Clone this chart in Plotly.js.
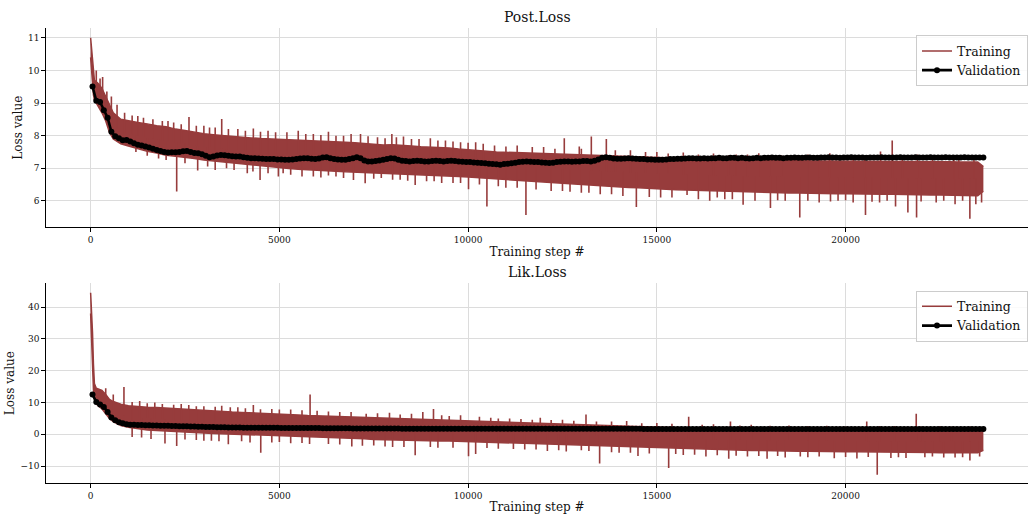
<!DOCTYPE html>
<html>
<head>
<meta charset="utf-8">
<script src="https://cdn.plot.ly/plotly-3.0.1.min.js"></script>
<style>html,body{margin:0;padding:0;background:#fff;}#chart{width:1033px;height:518px;}</style>
</head>
<body>
<div id="chart"></div>
<script>
// ---------- DATA ----------
const chartTitles = ['Post.Loss', 'Lik.Loss'];
const xTickValues = [0, 5000, 10000, 15000, 20000];
const xTickLabels = ['0', '5000', '10000', '15000', '20000'];
const topTickValues = [6, 7, 8, 9, 10, 11];
const botTickValues = [-10, 0, 10, 20, 30, 40];

// Training-loss steps at which the band (upper / lower envelope) was read
const trainSteps = [0,25,50,75,100,150,200,300,400,500,600,800,
  1000,1250,1500,1750,2000,2250,2500,2750,3000,3250,
  3500,3750,4000,4250,4500,4750,5000,5250,5500,5750,
  6000,6250,6500,6750,7000,7250,7500,7750,8000,8250,
  8500,8750,9000,9250,9500,9750,10000,10250,10500,10750,
  11000,11250,11500,11750,12000,12250,12500,12750,13000,13250,
  13500,13750,14000,14250,14500,14750,15000,15250,15500,15750,
  16000,16250,16500,16750,17000,17250,17500,17750,18000,18250,
  18500,18750,19000,19250,19500,19750,20000,20250,20500,20750,
  21000,21250,21500,21750,22000,22250,22500,22750,23000,23250,
  23500,23650];

const postTrainUpper = [11.0,10.6,10.3,9.9,9.7,9.65,9.6,9.45,9.2,8.95,8.7,8.5,
  8.45,8.4,8.36,8.3,8.27,8.2,8.16,8.1,8.06,8.03,
  8.0,7.97,7.96,7.93,7.91,7.9,7.88,7.87,7.86,7.84,
  7.83,7.83,7.81,7.8,7.78,7.76,7.73,7.71,7.72,7.69,
  7.68,7.66,7.65,7.63,7.62,7.59,7.56,7.54,7.52,7.5,
  7.49,7.47,7.46,7.45,7.44,7.43,7.42,7.4,7.4,7.39,
  7.38,7.37,7.36,7.35,7.34,7.33,7.32,7.31,7.3,7.29,
  7.28,7.27,7.27,7.26,7.26,7.25,7.25,7.24,7.24,7.24,
  7.23,7.23,7.23,7.22,7.22,7.22,7.22,7.21,7.21,7.21,
  7.21,7.2,7.2,7.2,7.2,7.2,7.2,7.2,7.19,7.19,
  7.19,7.05];
const postTrainLower = [10.4,9.9,9.45,9.25,9.1,9.0,8.9,8.7,8.45,8.1,7.9,7.75,
  7.68,7.6,7.52,7.47,7.4,7.37,7.34,7.3,7.25,7.22,
  7.19,7.15,7.12,7.09,7.06,7.03,7.01,6.99,6.97,6.96,
  6.94,6.93,6.91,6.89,6.88,6.87,6.86,6.85,6.84,6.83,
  6.81,6.8,6.79,6.78,6.77,6.75,6.73,6.71,6.69,6.67,
  6.65,6.63,6.61,6.59,6.57,6.55,6.53,6.51,6.49,6.47,
  6.46,6.44,6.43,6.41,6.4,6.38,6.37,6.36,6.34,6.33,
  6.32,6.31,6.3,6.29,6.28,6.27,6.26,6.26,6.25,6.25,
  6.24,6.24,6.23,6.23,6.22,6.22,6.22,6.21,6.21,6.2,
  6.2,6.2,6.19,6.19,6.18,6.18,6.18,6.17,6.17,6.16,
  6.16,6.3];
// training spikes sticking out of the band: [step, value]
const postSpikesUp = [[150,10.0],[250,9.75],[318,9.8],[430,9.35],[550,9.2],[700,8.95],[900,8.7],[1100,8.62],[1250,8.6],[1400,8.55],[1650,8.5],[1900,8.45],[2050,8.45],[2200,8.4],[2400,8.35],[2606,8.57],[2800,8.3],[3000,8.3],[3150,8.25],[3300,8.25],[3473,8.51],[3650,8.2],[3900,8.2],[4100,8.15],[4311,8.22],[4500,8.12],[4700,8.15],[4900,8.1],[5200,8.1],[5500,8.15],[5700,8.05],[5900,8.05],[6100,8.02],[6300,8.12],[6500,8.0],[6700,8.0],[6900,8.05],[7150,8.05],[7350,7.98],[7600,7.95],[7800,7.92],[7980,8.05],[8100,7.95],[8288,7.97],[8500,7.9],[8700,7.9],[9000,7.92],[9200,7.85],[9400,7.85],[9600,7.82],[9800,7.8],[10000,7.78],[10200,7.8],[10400,7.75],[10700,7.7],[11002,7.67],[11300,7.7],[11700,7.65],[12000,7.65],[12300,7.6],[12548,7.92],[12945,7.67],[13000,7.6],[13264,7.97],[13662,7.9],[13900,7.55],[14300,7.55],[14700,7.5],[15000,7.5],[15300,7.45],[15700,7.48],[16100,7.42],[16500,7.45],[16900,7.4],[17100,7.42],[17400,7.42],[17700,7.46],[18000,7.4],[18300,7.4],[18700,7.38],[19000,7.42],[19300,7.38],[19581,7.46],[20200,7.4],[20500,7.38],[20925,7.51],[21235,7.85],[21500,7.4],[21900,7.42],[22300,7.38],[22868,7.38],[23000,7.36],[23400,7.38]];
const postSpikesDown = [[1200,7.5],[1500,7.38],[1800,7.3],[2000,7.25],[2280,6.29],[2500,7.15],[2836,6.93],[3100,7.05],[3300,6.95],[3600,7.0],[3800,6.95],[4150,6.85],[4300,6.9],[4489,6.64],[4700,6.85],[4974,6.75],[5100,6.85],[5300,6.8],[5600,6.75],[5900,6.75],[6100,6.72],[6300,6.78],[6500,6.75],[6700,6.7],[6963,6.64],[7273,6.54],[7500,6.68],[7700,6.7],[8000,6.65],[8200,6.65],[8400,6.62],[8598,6.49],[8900,6.6],[9100,6.6],[9300,6.55],[9600,6.55],[9800,6.55],[10011,6.36],[10300,6.5],[10498,5.83],[10800,6.45],[11000,6.4],[11300,6.4],[11532,5.57],[11800,6.35],[12200,6.3],[12500,6.3],[12700,6.28],[13000,6.25],[13200,6.25],[13500,6.2],[13800,6.2],[14100,6.15],[14457,5.81],[14800,6.12],[15100,6.1],[15400,6.1],[15800,6.18],[16100,6.05],[16400,6.0],[16600,6.1],[16800,6.05],[17000,6.05],[17285,5.88],[17600,6.0],[18009,5.78],[18200,6.02],[18400,6.0],[18786,5.49],[19000,6.0],[19300,5.95],[19600,5.98],[19800,6.0],[20000,6.02],[20200,5.95],[20527,5.57],[20700,5.97],[20900,5.95],[21100,6.0],[21323,5.83],[21650,5.64],[21880,5.49],[22000,5.98],[22400,5.95],[22600,6.0],[22900,5.9],[23100,6.0],[23292,5.45],[23450,5.9],[23602,5.95]];

// validation every 100 steps starting at step 50
const valFirstStep = 50, valEvery = 100;
const postVal = [9.51,9.07,9.03,8.78,8.55,8.12,7.98,7.92,7.86,7.87,
  7.82,7.77,7.72,7.7,7.67,7.64,7.6,7.56,7.53,7.5,
  7.48,7.49,7.49,7.5,7.52,7.53,7.5,7.47,7.46,7.43,
  7.38,7.34,7.36,7.39,7.41,7.4,7.38,7.37,7.36,7.36,
  7.34,7.32,7.31,7.31,7.3,7.29,7.28,7.28,7.28,7.27,
  7.27,7.26,7.26,7.27,7.28,7.3,7.31,7.31,7.29,7.28,
  7.3,7.33,7.34,7.31,7.28,7.27,7.26,7.26,7.28,7.31,
  7.34,7.31,7.24,7.21,7.21,7.22,7.24,7.26,7.28,7.31,
  7.3,7.26,7.23,7.22,7.21,7.22,7.23,7.22,7.21,7.21,
  7.22,7.23,7.22,7.21,7.22,7.23,7.22,7.21,7.2,7.19,
  7.19,7.18,7.17,7.16,7.15,7.14,7.13,7.12,7.11,7.13,
  7.14,7.15,7.17,7.19,7.2,7.21,7.2,7.19,7.19,7.18,
  7.17,7.16,7.17,7.19,7.2,7.21,7.21,7.2,7.21,7.21,
  7.22,7.22,7.21,7.23,7.27,7.32,7.34,7.32,7.3,7.29,
  7.29,7.3,7.31,7.3,7.29,7.28,7.28,7.27,7.27,7.26,
  7.26,7.26,7.27,7.28,7.28,7.29,7.29,7.3,7.31,7.31,
  7.3,7.3,7.31,7.3,7.31,7.31,7.32,7.31,7.31,7.32,
  7.32,7.31,7.32,7.31,7.3,7.31,7.32,7.31,7.32,7.32,
  7.33,7.32,7.32,7.31,7.32,7.32,7.33,7.32,7.32,7.33,
  7.33,7.32,7.32,7.33,7.33,7.34,7.33,7.33,7.32,7.33,
  7.33,7.34,7.33,7.33,7.33,7.32,7.33,7.33,7.33,7.34,
  7.33,7.33,7.33,7.33,7.34,7.33,7.33,7.33,7.34,7.33,
  7.33,7.33,7.34,7.33,7.33,7.33,7.34,7.33,7.33,7.33,
  7.33,7.34,7.33,7.33,7.33,7.33,7.33];

const likTrainUpper = [44.5,40,32,22,16,14.5,14.3,13.8,12.5,11.0,10.3,9.5,
  9.0,8.7,8.5,8.4,8.2,8.0,7.8,7.7,7.5,7.3,
  7.2,7.0,6.9,6.8,6.7,6.6,6.5,6.3,6.1,5.9,
  5.8,5.7,5.6,5.5,5.4,5.3,5.1,5.0,4.9,4.8,
  4.8,4.7,4.6,4.5,4.4,4.3,4.2,4.0,3.9,3.8,
  3.7,3.6,3.5,3.5,3.4,3.3,3.3,3.2,3.1,3.0,
  2.8,2.7,2.6,2.5,2.5,2.4,2.3,2.2,2.1,2.0,
  1.9,1.8,1.7,1.7,1.6,1.6,1.5,1.5,1.5,1.4,
  1.4,1.4,1.4,1.3,1.3,1.3,1.3,1.3,1.2,1.2,
  1.2,1.2,1.2,1.2,1.1,1.1,1.1,1.1,1.1,1.1,
  1.1,1.2];
const likTrainLower = [38,28,20,14,11,9.5,9.0,8.0,6.5,5.0,4.0,2.8,
  2.2,1.7,1.4,1.2,1.0,0.8,0.6,0.5,0.4,0.3,
  0.2,0.0,-0.1,-0.2,-0.3,-0.4,-0.5,-0.6,-0.6,-0.7,
  -0.8,-0.9,-1.0,-1.1,-1.2,-1.4,-1.6,-1.7,-1.8,-1.9,
  -1.9,-2.0,-2.0,-2.1,-2.1,-2.2,-2.2,-2.3,-2.4,-2.5,
  -2.6,-2.7,-2.8,-2.9,-2.9,-3.0,-3.1,-3.2,-3.3,-3.4,
  -3.5,-3.7,-3.8,-3.9,-4.0,-4.2,-4.3,-4.4,-4.5,-4.6,
  -4.7,-4.8,-4.9,-4.9,-5.0,-5.0,-5.1,-5.1,-5.2,-5.2,
  -5.3,-5.3,-5.3,-5.4,-5.4,-5.4,-5.5,-5.5,-5.5,-5.6,
  -5.6,-5.6,-5.7,-5.7,-5.7,-5.7,-5.8,-5.8,-5.8,-5.8,
  -5.8,-5.0];
const likSpikesUp = [[400,14.5],[600,12.5],[883,14.9],[1100,10.2],[1300,10.5],[1500,9.8],[1700,10.0],[1900,9.5],[2200,9.3],[2400,9.5],[2600,9.2],[2800,8.8],[3000,8.8],[3300,8.7],[3473,9.0],[3700,8.5],[3900,8.5],[4100,8.2],[4311,9.2],[4500,7.9],[4800,8.0],[5000,7.8],[5300,7.8],[5600,7.6],[5814,12.5],[6000,7.4],[6300,7.2],[6600,7.0],[6900,7.0],[7300,6.5],[7600,6.6],[7917,6.8],[8200,6.2],[8500,6.5],[8800,7.0],[9083,8.0],[9300,6.0],[9500,5.8],[9800,6.0],[10300,5.5],[10600,5.2],[10800,5.0],[11100,5.0],[11400,4.8],[11700,4.6],[11912,5.2],[12200,4.5],[12500,4.6],[12800,4.3],[13123,6.2],[13400,4.0],[13800,4.0],[14200,4.2],[14600,3.5],[15000,3.6],[15400,3.3],[15843,5.5],[16200,3.0],[16500,3.2],[16950,4.0],[17200,2.8],[17500,3.0],[18000,2.7],[18500,2.8],[19000,2.6],[19500,2.7],[20000,2.5],[20560,4.0],[20900,2.6],[21300,2.6],[21871,6.5],[22000,2.5],[22500,2.6],[22800,2.4],[23300,2.5]];
const likSpikesDown = [[1100,-0.8],[1350,-1.0],[1600,-1.5],[1970,-2.9],[2280,-3.7],[2500,-1.6],[2800,-1.8],[3000,-2.0],[3200,-2.0],[3400,-2.2],[3648,-3.1],[4000,-2.2],[4223,-2.6],[4507,-5.8],[4800,-2.6],[5000,-2.4],[5300,-2.8],[5600,-2.7],[5800,-3.0],[6300,-3.0],[6600,-3.2],[6919,-3.8],[7200,-3.6],[7500,-3.5],[7800,-3.8],[8000,-4.0],[8300,-4.0],[8598,-6.6],[9000,-4.0],[9200,-4.2],[9600,-4.2],[10011,-6.9],[10200,-6.2],[10500,-4.3],[10800,-4.5],[11200,-4.6],[11500,-4.8],[11800,-4.8],[12100,-5.2],[12400,-5.0],[12600,-5.4],[13000,-5.0],[13200,-5.2],[13484,-9.2],[13800,-5.6],[14000,-5.8],[14300,-5.8],[14500,-6.8],[14800,-6.0],[15313,-10.6],[15500,-6.2],[15700,-6.5],[16000,-6.4],[16300,-7.0],[16600,-6.6],[16904,-7.7],[17100,-6.7],[17400,-7.0],[17700,-6.8],[17920,-7.7],[18200,-6.8],[18400,-7.3],[18800,-7.0],[19000,-7.2],[19300,-7.0],[19700,-7.5],[20000,-7.1],[20300,-7.6],[20600,-7.1],[20838,-12.7],[21200,-7.4],[21400,-7.2],[21600,-7.4],[22100,-7.2],[22300,-7.0],[22600,-7.3],[22900,-7.3],[23100,-7.2],[23293,-8.2],[23550,-7.0]];

const likVal = [12.5,10.2,9.4,8.6,7.0,5.3,4.4,3.8,3.45,3.2,
  3.05,3.0,2.95,2.9,2.85,2.82,2.78,2.75,2.72,2.7,
  2.67,2.64,2.6,2.58,2.55,2.52,2.5,2.46,2.42,2.38,
  2.34,2.3,2.28,2.25,2.23,2.2,2.18,2.16,2.14,2.12,
  2.1,2.09,2.08,2.07,2.06,2.06,2.05,2.05,2.04,2.04,
  2.03,2.03,2.02,2.02,2.01,2.0,2.0,1.99,1.98,1.97,
  1.96,1.95,1.94,1.93,1.92,1.91,1.9,1.89,1.88,1.87,
  1.86,1.85,1.84,1.83,1.82,1.82,1.81,1.81,1.8,1.8,
  1.8,1.8,1.79,1.79,1.79,1.79,1.78,1.78,1.78,1.78,
  1.78,1.78,1.77,1.77,1.77,1.77,1.77,1.76,1.76,1.76,
  1.76,1.76,1.76,1.75,1.75,1.75,1.75,1.75,1.75,1.75,
  1.75,1.75,1.74,1.74,1.74,1.74,1.74,1.74,1.74,1.74,
  1.74,1.74,1.73,1.73,1.73,1.73,1.73,1.73,1.73,1.73,
  1.73,1.73,1.73,1.72,1.72,1.72,1.72,1.72,1.72,1.72,
  1.72,1.72,1.72,1.72,1.72,1.72,1.71,1.71,1.71,1.71,
  1.71,1.71,1.71,1.71,1.71,1.71,1.71,1.71,1.71,1.71,
  1.71,1.71,1.71,1.71,1.7,1.7,1.7,1.7,1.7,1.7,
  1.7,1.7,1.7,1.7,1.7,1.7,1.7,1.7,1.7,1.7,
  1.7,1.7,1.7,1.7,1.7,1.7,1.7,1.7,1.7,1.7,
  1.7,1.7,1.7,1.7,1.7,1.7,1.7,1.7,1.7,1.7,
  1.7,1.7,1.7,1.7,1.7,1.7,1.7,1.7,1.7,1.7,
  1.7,1.7,1.7,1.7,1.7,1.7,1.7,1.7,1.7,1.7,
  1.7,1.7,1.7,1.7,1.7,1.7,1.7,1.7,1.7,1.7,
  1.7,1.7,1.7,1.7,1.7,1.7,1.7];

// ---------- STYLE ----------
const TRAIN_COLOR = '#973c3c';
const FONT = 'DejaVu Serif, serif';

function midAt(s, steps, up, lo) {
  for (let i = 0; i < steps.length - 1; i++) {
    if (s >= steps[i] && s <= steps[i + 1]) {
      const t = (s - steps[i]) / (steps[i + 1] - steps[i]);
      const u = up[i] + t * (up[i + 1] - up[i]);
      const l = lo[i] + t * (lo[i + 1] - lo[i]);
      return (u + l) / 2;
    }
  }
  return (up[up.length - 1] + lo[lo.length - 1]) / 2;
}

function buildPanel(up, lo, spUp, spDown, val, xa, ya, legendId) {
  const n = Math.min(trainSteps.length, up.length, lo.length);
  const st = trainSteps.slice(0, n);
  const sx = [], sy = [];
  spUp.concat(spDown).forEach(([s, v]) => {
    sx.push(s, s, null);
    sy.push(midAt(s, st, up, lo), v, null);
  });
  const vx = val.map((_, i) => valFirstStep + i * valEvery);
  return [
    { x: st, y: up.slice(0, n), xaxis: xa, yaxis: ya, type: 'scatter', mode: 'lines',
      name: 'Training', legend: legendId, line: { color: TRAIN_COLOR, width: 1.5 }, hoverinfo: 'skip' },
    { x: st, y: lo.slice(0, n), xaxis: xa, yaxis: ya, type: 'scatter', mode: 'lines',
      fill: 'tonexty', fillcolor: TRAIN_COLOR, showlegend: false, legend: legendId,
      line: { color: TRAIN_COLOR, width: 1.5 }, hoverinfo: 'skip' },
    { x: sx, y: sy, xaxis: xa, yaxis: ya, type: 'scatter', mode: 'lines', showlegend: false,
      legend: legendId, connectgaps: false, line: { color: TRAIN_COLOR, width: 1.6 }, hoverinfo: 'skip' },
    { x: vx, y: val, xaxis: xa, yaxis: ya, type: 'scatter', mode: 'lines+markers',
      name: 'Validation', legend: legendId, line: { color: '#000', width: 2.6 },
      marker: { color: '#000', size: 6 }, hoverinfo: 'skip' }
  ];
}

const data = [].concat(
  buildPanel(postTrainUpper, postTrainLower, postSpikesUp, postSpikesDown, postVal, 'x', 'y', 'legend'),
  buildPanel(likTrainUpper, likTrainLower, likSpikesUp, likSpikesDown, likVal, 'x2', 'y2', 'legend2')
);

const gridColor = '#dcdcdc';
function xAxis(anchor) {
  return {
    anchor: anchor, domain: [0, 1], range: [-1182, 24832],
    tickvals: xTickValues, ticktext: xTickLabels,
    showgrid: true, gridcolor: gridColor, gridwidth: 1, zeroline: false,
    showline: true, linecolor: '#000', linewidth: 1.2,
    ticks: 'outside', ticklen: 3.5, tickwidth: 1, tickcolor: '#000',
    tickfont: { family: FONT, size: 9, color: '#111' },
    title: { text: 'Training step #', font: { family: FONT, size: 12, color: '#111' }, standoff: 3 }
  };
}
function yAxis(anchor, domain, range, ticks) {
  return {
    anchor: anchor, domain: domain, range: range, tickvals: ticks,
    showgrid: true, gridcolor: gridColor, gridwidth: 1, zeroline: false,
    showline: true, linecolor: '#000', linewidth: 1.2,
    ticks: 'outside', ticklen: 3.5, tickwidth: 1, tickcolor: '#000',
    tickfont: { family: FONT, size: 9, color: '#111' }
  };
}
function legendAt(y) {
  return {
    x: 1, xanchor: 'right', y: y, yanchor: 'top', traceorder: 'normal',
    bgcolor: 'rgba(255,255,255,0.85)', bordercolor: '#cccccc', borderwidth: 1,
    font: { family: FONT, size: 12.5, color: '#111' }, itemwidth: 30, tracegroupgap: 0
  };
}

const layout = {
  width: 1033, height: 518,
  margin: { l: 46, r: 5, t: 28, b: 35 },
  paper_bgcolor: '#fff', plot_bgcolor: '#fff',
  font: { family: FONT, color: '#111' },
  showlegend: true,
  xaxis: xAxis('y'),
  yaxis: yAxis('x', [0.562, 1], [5.19, 11.30], topTickValues),
  xaxis2: xAxis('y2'),
  yaxis2: yAxis('x2', [0, 0.439], [-15.3, 47.5], botTickValues),
  legend: legendAt(0.984),
  legend2: legendAt(0.4226),
  annotations: [
    { text: chartTitles[0], xref: 'paper', yref: 'paper', x: 0.5, y: 1, xanchor: 'center', yanchor: 'bottom',
      yshift: 1, showarrow: false, font: { family: FONT, size: 14, color: '#111' } },
    { text: chartTitles[1], xref: 'paper', yref: 'paper', x: 0.5, y: 0.439, xanchor: 'center', yanchor: 'bottom',
      yshift: 1, showarrow: false, font: { family: FONT, size: 14, color: '#111' } },
    { text: 'Loss value', xref: 'paper', yref: 'paper', x: 0, y: 0.781, xanchor: 'center', yanchor: 'middle',
      xshift: -28, textangle: -90, showarrow: false, font: { family: FONT, size: 12, color: '#111' } },
    { text: 'Loss value', xref: 'paper', yref: 'paper', x: 0, y: 0.2195, xanchor: 'center', yanchor: 'middle',
      xshift: -36, textangle: -90, showarrow: false, font: { family: FONT, size: 12, color: '#111' } }
  ]
};

Plotly.newPlot('chart', data, layout, { staticPlot: true, displayModeBar: false });
</script>
</body>
</html>
